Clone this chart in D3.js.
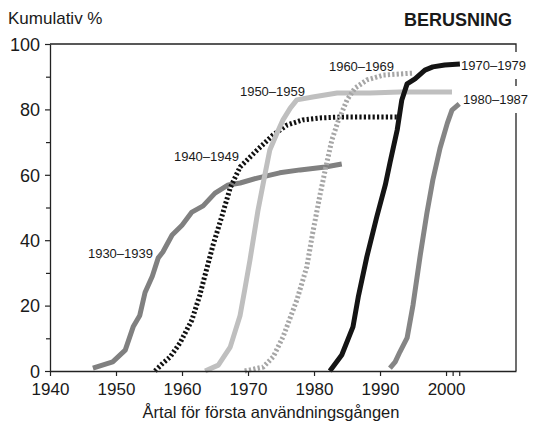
<!DOCTYPE html>
<html>
<head>
<meta charset="utf-8">
<script src="https://cdn.jsdelivr.net/npm/d3@7"></script>
<style>
  html, body { margin: 0; padding: 0; background: #fff; }
  svg { display: block; font-family: "Liberation Sans", Arial, Helvetica, sans-serif; }
</style>
</head>
<body>
<svg id="chart" width="540" height="430"></svg>
<script>
// ---- Data ----
const title = "BERUSNING";
const yTitle = "Kumulativ %";
const xTitle = "Årtal för första användningsgången";

const xTickValues = [1940, 1950, 1960, 1970, 1980, 1990, 2000];
const xMinorTicks = [2001, 2002];
const yTickValues = [0, 20, 40, 60, 80, 100];
const yMinorTicks = [10, 30, 50, 70, 90];

const cohorts = ["1930–1939", "1940–1949", "1950–1959", "1960–1969", "1970–1979", "1980–1987"];

const years1930 = [1946.5, 1949.5, 1951.4, 1952.6, 1953.6, 1954.4, 1955.5, 1956.4, 1957.1, 1958.5, 1960.0, 1961.5, 1963.2, 1965.0, 1967.0, 1968.8, 1971.4, 1974.8, 1977.9, 1981.7, 1984.2];
const vals1930  = [0.9, 2.8, 6.4, 13.5, 17, 24, 29, 34.6, 36.4, 41.6, 44.6, 48.6, 50.5, 54.4, 56.9, 57.5, 59, 60.6, 61.5, 62.4, 63.3];

const years1940 = [1955.9, 1957.1, 1958.2, 1959.7, 1961.5, 1962.7, 1963.5, 1964.7, 1966.1, 1967.3, 1968.8, 1971.4, 1973.8, 1975.9, 1978.3, 1980.9, 1984.4, 1988.5, 1992.6];
const vals1940  = [0, 2.4, 4.3, 8.6, 15.6, 23.2, 29.4, 38.5, 47.7, 56, 62.4, 67.6, 72.2, 75.2, 76.8, 77.4, 77.7, 77.7, 77.7];

const years1950 = [1963.5, 1965.5, 1967.3, 1968.8, 1969.5, 1970.3, 1971.5, 1972.6, 1973.3, 1974.4, 1975.3, 1976.4, 1977.4, 1979.8, 1983.5, 1988.5, 1993.0, 2000.9];
const vals1950  = [0, 1.8, 7.3, 17, 24.8, 34, 49, 60.5, 67.6, 72.8, 76.8, 80.4, 82.9, 83.8, 85, 85, 85.3, 85.3];

const years1960 = [1969.5, 1972.3, 1973.8, 1975.3, 1977.4, 1978.9, 1979.8, 1980.9, 1981.7, 1982.7, 1983.6, 1985.0, 1986.2, 1988.0, 1990.5, 1995.0];
const vals1960  = [0, 1.2, 4.3, 10.4, 21.7, 31.8, 42.2, 53.8, 61.5, 70.6, 76.1, 82.9, 86.5, 89, 90.5, 91.1];

const years1970 = [1982.4, 1984.2, 1985.9, 1986.7, 1988.0, 1989.5, 1990.8, 1991.5, 1992.6, 1993.3, 1994.1, 1995.3, 1996.8, 1998.0, 1999.8, 2002.1];
const vals1970  = [0, 4.9, 13.5, 22.6, 34.9, 47.1, 56.9, 63.6, 73.7, 82.9, 87.8, 89.3, 92, 93, 93.6, 93.9];

const years1980 = [1991.5, 1992.3, 1993.0, 1994.1, 1995.0, 1996.1, 1997.1, 1998.0, 1999.1, 2000.2, 2000.9, 2002.0];
const vals1980  = [0.9, 2.8, 5.8, 10.1, 20.2, 35.5, 48.3, 58.4, 68.2, 75.8, 79.8, 81.7];

// ---- Build series table from arrays ----
const seriesYears = [years1930, years1940, years1950, years1960, years1970, years1980];
const seriesVals  = [vals1930, vals1940, vals1950, vals1960, vals1970, vals1980];
const styles = [
  { color: "#808080", dash: null },
  { color: "#111111", dash: "2.2,2.2" },
  { color: "#bfbfbf", dash: null },
  { color: "#a6a6a6", dash: "2.2,2.2" },
  { color: "#141414", dash: null },
  { color: "#858585", dash: null }
];
const labelPos = [
  { x: 153, y: 258, anchor: "end", mask: false },
  { x: 239, y: 161, anchor: "end", mask: false },
  { x: 305, y: 96, anchor: "end", mask: false },
  { x: 394, y: 71, anchor: "end", mask: false },
  { x: 461, y: 70, anchor: "start", mask: true },
  { x: 463, y: 104, anchor: "start", mask: true }
];
const series = cohorts.map((name, i) => ({
  name,
  points: seriesYears[i].map((yr, j) => ({ x: yr, y: seriesVals[i][j] })),
  style: styles[i],
  label: labelPos[i]
}));

// ---- Chart ----
const svg = d3.select("#chart");
const mLeft = 50, mRight = 516, mTop = 44, mBottom = 371;
const x = d3.scaleLinear().domain([1940, 2010.6]).range([mLeft, mRight]);
const y = d3.scaleLinear().domain([0, 100]).range([mBottom, mTop]);

// frame (top + right)
svg.append("path")
  .attr("d", `M${mLeft},${mTop}H${mRight}V${mBottom}`)
  .attr("fill", "none").attr("stroke", "#222").attr("stroke-width", 1.3);

// lines
const line = d3.line().x(d => x(d.x)).y(d => y(d.y));
series.forEach(s => {
  svg.append("path")
    .datum(s.points)
    .attr("d", line)
    .attr("fill", "none")
    .attr("stroke", s.style.color)
    .attr("stroke-width", 5)
    .attr("stroke-linejoin", "round")
    .attr("stroke-linecap", "butt")
    .attr("stroke-dasharray", s.style.dash);
});

// axes
const xAxis = svg.append("g").attr("transform", `translate(0,${mBottom})`)
  .call(d3.axisBottom(x).tickValues(xTickValues).tickFormat(d3.format("d")).tickSize(5).tickSizeOuter(0));
svg.append("g").attr("transform", `translate(0,${mBottom})`)
  .call(d3.axisBottom(x).tickValues(xMinorTicks).tickFormat("").tickSize(5).tickSizeOuter(0))
  .select(".domain").remove();
const yAxis = svg.append("g").attr("transform", `translate(${mLeft},0)`)
  .call(d3.axisLeft(y).tickValues(yTickValues).tickSize(5).tickSizeOuter(0));
svg.append("g").attr("transform", `translate(${mLeft},0)`)
  .call(d3.axisLeft(y).tickValues(yMinorTicks).tickFormat("").tickSize(4).tickSizeOuter(0))
  .select(".domain").remove();

svg.selectAll(".domain").attr("stroke", "#222").attr("stroke-width", 1.3);
svg.selectAll(".tick line").attr("stroke", "#222").attr("stroke-width", 1.2);
xAxis.selectAll(".tick text")
  .attr("font-size", 17).attr("fill", "#1a1a1a").attr("dy", null).attr("y", 24)
  .attr("font-family", "Liberation Sans, Arial, sans-serif");
yAxis.selectAll(".tick text")
  .attr("font-size", 18).attr("fill", "#1a1a1a").attr("x", -10).attr("dy", "0.35em")
  .attr("font-family", "Liberation Sans, Arial, sans-serif");

// series labels (white backgrounds only where they sit on the frame)
series.forEach(s => {
  const g = svg.append("g");
  const t = g.append("text")
    .attr("x", s.label.x).attr("y", s.label.y)
    .attr("text-anchor", s.label.anchor)
    .attr("font-size", 13).attr("fill", "#1a1a1a")
    .text(s.name);
  if (s.label.mask) {
    const bb = t.node().getBBox();
    g.insert("rect", "text")
      .attr("x", bb.x + 2).attr("y", bb.y - 6)
      .attr("width", bb.width + 2).attr("height", bb.height + 12)
      .attr("fill", "#fff");
  }
});

// titles
svg.append("text").attr("x", 8).attr("y", 24)
  .attr("font-size", 17).attr("fill", "#1a1a1a").text(yTitle);
svg.append("text").attr("x", 512).attr("y", 26).attr("text-anchor", "end")
  .attr("font-size", 18).attr("font-weight", "bold").attr("fill", "#1a1a1a").text(title);
svg.append("text").attr("x", 271).attr("y", 418).attr("text-anchor", "middle")
  .attr("font-size", 16.5).attr("fill", "#1a1a1a").text(xTitle);
</script>
</body>
</html>
